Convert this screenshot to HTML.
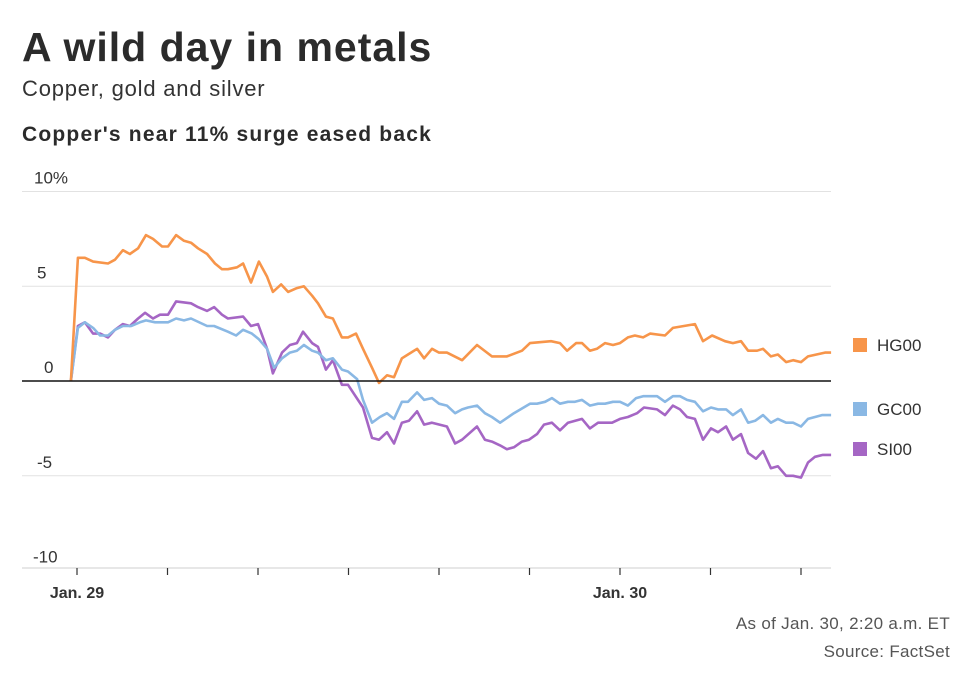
<!DOCTYPE html>
<html><head><meta charset="utf-8"><style>
body{margin:0;background:#fff;font-family:"Liberation Sans",sans-serif;}
svg{display:block}
</style></head><body>
<svg width="973" height="691" viewBox="0 0 973 691">
<text x="22" y="61" font-size="41" font-weight="bold" letter-spacing="1" fill="#2b2b2b">A wild day in metals</text>
<text x="22" y="96" font-size="22" letter-spacing="0.8" fill="#333">Copper, gold and silver</text>
<text x="22" y="141" font-size="21" font-weight="bold" letter-spacing="1.2" fill="#2b2b2b">Copper's near 11% surge eased back</text>
<g id="grid"></g><g id="series"></g><g id="axes"></g>
<text x="950" y="629" font-size="17" letter-spacing="0.3" fill="#555" text-anchor="end">As of Jan. 30, 2:20 a.m. ET</text>
<text x="950" y="657" font-size="17" letter-spacing="0.3" fill="#555" text-anchor="end">Source: FactSet</text>
</svg>
<script>
const yTicks=[10,5,0,-5,-10];
const yTickLabels=["10%","5","0","-5","-10"];
const xTickHours=[0,4,8,12,16,20,24,28,32];
const xLabels=[{h:0,t:"Jan. 29"},{h:24,t:"Jan. 30"}];
const seriesNames=["HG00","GC00","SI00"];
const hgT=[-0.27,0.04,0.35,0.71,1.37,1.68,2.03,2.34,2.70,3.05,3.36,3.76,4.02,4.38,4.73,5.04,5.35,5.75,6.10,6.41,6.67,7.07,7.34,7.69,8.04,8.40,8.66,9.02,9.33,9.72,10.03,10.39,10.65,11.0,11.31,11.71,11.98,12.33,12.64,13.04,13.35,13.70,14.01,14.36,14.63,15.03,15.34,15.69,16.0,16.35,17.02,17.68,18.34,19.0,19.67,20.02,20.95,21.35,21.66,22.06,22.32,22.67,22.98,23.34,23.69,24.0,24.35,24.66,25.02,25.33,25.99,26.34,27.31,27.67,28.07,28.64,28.99,29.35,29.66,30.06,30.32,30.67,30.98,31.34,31.65,32.0,32.31,33.06,33.33];
const hgV=[0,6.5,6.5,6.3,6.2,6.4,6.9,6.7,7.0,7.7,7.5,7.1,7.1,7.7,7.4,7.3,7.0,6.7,6.2,5.9,5.9,6.0,6.2,5.2,6.3,5.5,4.7,5.1,4.7,4.9,5.0,4.5,4.1,3.4,3.3,2.3,2.3,2.5,1.7,0.7,-0.1,0.3,0.2,1.2,1.4,1.7,1.2,1.7,1.5,1.5,1.1,1.9,1.3,1.3,1.6,2.0,2.1,2.0,1.6,2.0,2.0,1.6,1.7,2.0,1.9,2.0,2.3,2.4,2.3,2.5,2.4,2.8,3.0,2.1,2.4,2.1,2.0,2.1,1.6,1.6,1.7,1.3,1.4,1.0,1.1,1.0,1.3,1.5,1.5];
const gcT=[-0.27,0.04,0.35,0.71,1.02,1.37,1.68,2.03,2.39,2.78,3.05,3.45,4.02,4.38,4.73,5.04,5.75,6.06,6.67,7.03,7.34,7.73,8.04,8.40,8.71,9.06,9.41,9.72,10.03,10.39,10.65,11.0,11.31,11.71,11.98,12.38,12.64,13.04,13.39,13.70,14.01,14.36,14.63,15.03,15.34,15.69,16.0,16.35,16.71,17.02,17.28,17.68,18.03,18.34,18.70,19.31,20.02,20.33,20.69,20.99,21.35,21.70,22.01,22.32,22.67,23.03,23.34,23.69,24.0,24.35,24.71,25.02,25.64,25.99,26.34,26.65,26.96,27.31,27.67,28.02,28.33,28.69,28.99,29.35,29.66,29.97,30.32,30.67,30.98,31.34,31.65,32.0,32.31,32.93,33.33];
const gcV=[0,2.8,3.1,2.8,2.4,2.4,2.7,2.9,2.9,3.1,3.2,3.1,3.1,3.3,3.2,3.3,2.9,2.9,2.6,2.4,2.7,2.5,2.2,1.7,0.7,1.2,1.5,1.6,1.9,1.6,1.5,1.1,1.2,0.6,0.5,0.1,-1.0,-2.2,-1.9,-1.7,-2.0,-1.1,-1.1,-0.6,-1.0,-0.9,-1.2,-1.3,-1.7,-1.5,-1.4,-1.3,-1.7,-1.9,-2.2,-1.7,-1.2,-1.2,-1.1,-0.9,-1.2,-1.1,-1.1,-1.0,-1.3,-1.2,-1.2,-1.1,-1.1,-1.3,-0.9,-0.8,-0.8,-1.1,-0.8,-0.8,-1.0,-1.1,-1.6,-1.4,-1.5,-1.5,-1.8,-1.5,-2.2,-2.1,-1.8,-2.2,-2.0,-2.2,-2.2,-2.4,-2.0,-1.8,-1.8];
const siT=[-0.27,0.04,0.35,0.71,1.02,1.37,1.68,2.03,2.34,2.70,3.01,3.36,3.67,4.02,4.38,5.04,5.35,5.75,6.06,6.41,6.67,7.34,7.69,8.0,8.40,8.66,9.06,9.41,9.72,9.99,10.39,10.65,11.0,11.31,11.71,11.98,12.64,13.04,13.35,13.70,14.01,14.36,14.67,15.03,15.34,15.69,16.35,16.71,17.02,17.68,18.03,18.34,18.70,19.0,19.31,19.67,19.98,20.33,20.64,20.99,21.35,21.70,22.32,22.67,23.03,23.65,24.0,24.35,24.75,25.06,25.64,25.99,26.34,26.65,26.96,27.31,27.67,28.02,28.33,28.69,28.99,29.35,29.66,30.01,30.32,30.67,30.98,31.34,31.65,32.0,32.31,32.62,32.97,33.33];
const siV=[0,2.9,3.1,2.5,2.5,2.3,2.7,3.0,2.9,3.3,3.6,3.3,3.5,3.5,4.2,4.1,3.9,3.7,3.9,3.5,3.3,3.4,2.9,3.0,1.7,0.4,1.5,1.9,2.0,2.6,2.0,1.8,0.6,1.1,-0.2,-0.2,-1.4,-3.0,-3.1,-2.7,-3.3,-2.2,-2.1,-1.6,-2.3,-2.2,-2.4,-3.3,-3.1,-2.4,-3.1,-3.2,-3.4,-3.6,-3.5,-3.2,-3.1,-2.8,-2.3,-2.2,-2.6,-2.2,-2.0,-2.5,-2.2,-2.2,-2.0,-1.9,-1.7,-1.4,-1.5,-1.8,-1.3,-1.5,-1.9,-2.0,-3.1,-2.5,-2.7,-2.4,-3.1,-2.8,-3.8,-4.1,-3.7,-4.6,-4.5,-5.0,-5.0,-5.1,-4.3,-4.0,-3.9,-3.9];
const colors=["#f7954a","#8ab8e4","#a566c4"];
const legendY=[345,409,449];

const NS="http://www.w3.org/2000/svg";
const xS=h=>77+h*22.625, yS=v=>381-v*18.95;
function mk(tag,attrs,parent){const e=document.createElementNS(NS,tag);for(const k in attrs)e.setAttribute(k,attrs[k]);parent.appendChild(e);return e;}
const grid=document.getElementById('grid'),ser=document.getElementById('series'),ax=document.getElementById('axes');
yTicks.forEach((v,i)=>{
  if(v!==0&&v!==-10){const l=mk('line',{x1:22,x2:831,y1:yS(v),y2:yS(v),stroke:'#e2e2e2','stroke-width':1},grid);
  
  }
  const t=mk('text',{x:v===0?44:(v===10?34:(v===-10?33:37)),y:yS(v)-8,'font-size':17,fill:'#333'},ax);t.textContent=yTickLabels[i];
  
  
});
const base=mk('line',{x1:22,x2:831,y1:568,y2:568,stroke:'#cfcfcf','stroke-width':1},ax);


xTickHours.forEach(h=>{const l=mk('line',{x1:xS(h),x2:xS(h),y1:568,y2:575,stroke:'#333','stroke-width':1.2},ax);
  
  });
xLabels.forEach(o=>{const t=mk('text',{x:xS(o.h),y:598,'font-size':16,'font-weight':'bold','text-anchor':'middle',fill:'#333'},ax);t.textContent=o.t;
  
  });
const data=[[hgT,hgV],[gcT,gcV],[siT,siV]];
[2,1,0].forEach(i=>{const [T,V]=data[i];
  const p=mk('polyline',{points:T.map((t,j)=>xS(t).toFixed(1)+','+yS(V[j]).toFixed(1)).join(' '),fill:'none',stroke:colors[i],'stroke-width':2.6,'stroke-linejoin':'round'},ser);
  
  });
const zero=mk('line',{x1:22,x2:831,y1:yS(0),y2:yS(0),stroke:'#111','stroke-width':1.5},ax);


seriesNames.forEach((n,i)=>{const g=mk('g',{},ax);
  
  
  mk('rect',{x:853,y:legendY[i]-7,width:14,height:14,fill:colors[i]},g);
  const t=mk('text',{x:877,y:legendY[i]+6,'font-size':17,fill:'#333'},g);t.textContent=n;});
</script>
</body></html>
